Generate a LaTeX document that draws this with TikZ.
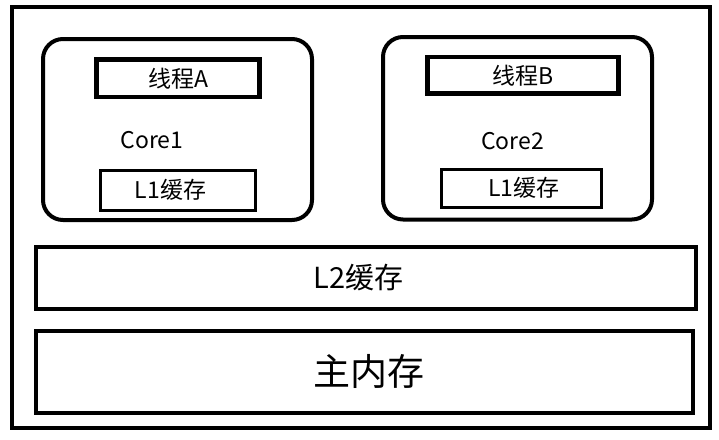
\documentclass[tikz,border=0pt]{standalone}
\usepackage{fontspec}
\setmainfont{Noto Sans CJK SC}
\begin{document}
\begin{tikzpicture}[x=1pt,y=-1pt,
  box/.style={draw=black,line width=4pt,rectangle,inner sep=0pt,anchor=center},
  corebox/.style={box,rounded corners=20pt},
  thinbox/.style={box,line width=3pt},
  small/.style={font=\fontsize{23}{26}\selectfont},
  mid/.style={font=\fontsize{29}{33}\selectfont},
  big/.style={font=\fontsize{37}{42}\selectfont}]
\useasboundingbox[fill=white] (0,0) rectangle (719,439);
\node[box,minimum width=697.5pt,minimum height=421pt] (outer) at (360.75,217) {};
\node[corebox,minimum width=269pt,minimum height=181pt] (core1) at (177.5,129.5) {};
\node[corebox,minimum width=269pt,minimum height=182.5pt] (core2) at (517.5,128.25) {};
\node[box,line width=4.5pt,minimum width=163pt,minimum height=37.5pt,small] (ta) at (178,78.25) {线程A};
\node[box,line width=4.5pt,minimum width=191pt,minimum height=36.5pt,small] (tb) at (523,75.25) {线程B};
\node[small] (c1) at (152,140) {Core1};
\node[small] (c2) at (512.5,141.5) {Core2};
\node[thinbox,minimum width=155pt,minimum height=40pt,small] (l1a) at (177.5,190) {\hspace*{-14pt}L1缓存};
\node[thinbox,minimum width=159.5pt,minimum height=38.5pt,small] (l1b) at (521.25,188.25) {\hspace*{5pt}L1缓存};
\node[box,minimum width=659.5pt,minimum height=62pt,mid] (l2) at (365.75,277.5) {\hspace*{-15pt}L2缓存};
\node[box,minimum width=657pt,minimum height=81.5pt,big] (mem) at (364.5,371.75) {\hspace*{9pt}主内存};
\end{tikzpicture}
\end{document}
